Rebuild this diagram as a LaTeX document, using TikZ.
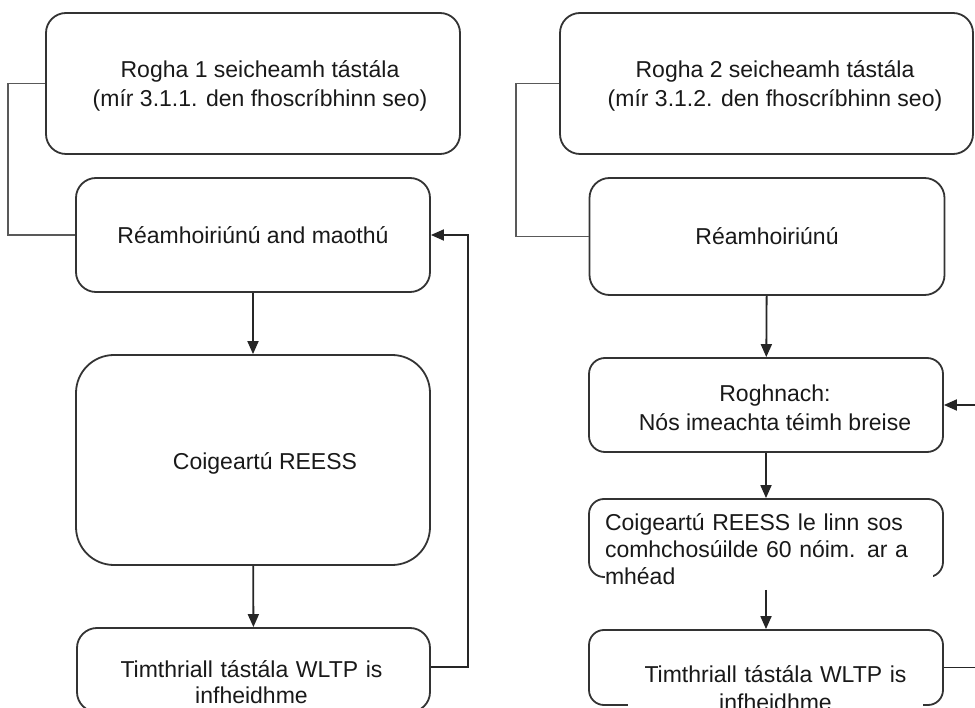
\documentclass[tikz,border=0pt]{standalone}
\usepackage{fontspec}
\setmainfont{Liberation Sans}
\usetikzlibrary{arrows.meta}
\begin{document}
\begin{tikzpicture}[x=1pt,y=-1pt,
 box/.style={draw=black!80, line width=1.8pt, rounded corners=#1, inner sep=0pt, align=center, text=black!90, font=\fontsize{23}{29}\selectfont},
 box/.default=18pt,
 lbl/.style={inner xsep=0pt, inner ysep=5pt, text=black!90, font=\fontsize{23}{27}\selectfont, fill=white},
 arr/.style={draw=black!85, line width=1.8pt, -{Triangle[length=13pt,width=11pt]}},
 brk/.style={draw=black!65, line width=1.4pt}]
\path[use as bounding box] (0,0) rectangle (975,708);
\clip (0,0) rectangle (975,708);
% left column
\node[box=20pt, minimum width=414pt, minimum height=141pt] (A) at (253,83.5) {};
\node[lbl, fill=none, align=center, font=\fontsize{23}{29}\selectfont] (At) at (260,86) {Rogha 1 seicheamh tástála\\(mír 3.1.1. den fhoscríbhinn seo)};
\node[box=20pt, minimum width=354pt, minimum height=114pt] (B) at (253,235) {Réamhoiriúnú and maothú};
\node[box=38pt, minimum width=354pt, minimum height=210pt] (C) at (253,460) {};
\node[lbl, fill=none] (Ct) at (265,463) {Coigeartú REESS};
\node[box=20pt, minimum width=353pt, minimum height=84pt] (D) at (253.5,670) {};
\node[lbl, align=center, text width=300pt, font=\fontsize{23}{26}\selectfont] (Dt) at (251.5,682) {Timthriall tástála WLTP is\\infheidhme};
% right column
\node[box=20pt, minimum width=413pt, minimum height=141pt] (E) at (766.5,83.5) {};
\node[lbl, fill=none, align=center, font=\fontsize{23}{29}\selectfont] (Et) at (775,86) {Rogha 2 seicheamh tástála\\(mír 3.1.2. den fhoscríbhinn seo)};
\node[box=20pt, minimum width=355pt, minimum height=117pt] (F) at (767,236.5) {Réamhoiriúnú};
\node[box=16pt, minimum width=354pt, minimum height=94pt] (G) at (766,405) {};
\node[lbl, fill=none, align=center, font=\fontsize{23}{29}\selectfont] (Gt) at (775,408) {Roghnach:\\Nós imeachta téimh breise};
\node[box=15pt, minimum width=354pt, minimum height=78pt] (H) at (766,538) {};
\node[lbl, align=left, text width=328pt] (Ht) at (769,549) {Coigeartú REESS le linn sos\\comhchosúilde 60 nóim. ar a\\mhéad};
\node[box=15pt, minimum width=354pt, minimum height=75pt] (I) at (766,667.5) {};
\node[lbl, align=center, text width=295pt, font=\fontsize{23}{28}\selectfont] (It) at (775.5,688) {Timthriall tástála WLTP is\\infheidhme};
% brackets
\draw[brk] (A.west) -- ++(-37,0) |- (B.west);
\draw[brk] (E.west) -- ++(-43,0) |- (F.west);
% arrows left
\draw[arr] (B) -- (C);
\draw[arr] (C) -- (D);
\draw[arr] ([yshift=3pt]D.east) -- ++(37,0) |- (B.east);
% arrows right
\draw[arr] (F) -- (G);
\draw[arr] (G) -- (H);
\draw[arr] (Ht.south -| H.north) -- (I.north);
\draw[arr] (I.east) -- ++(45,0) |- (G.east);
\end{tikzpicture}
\end{document}
